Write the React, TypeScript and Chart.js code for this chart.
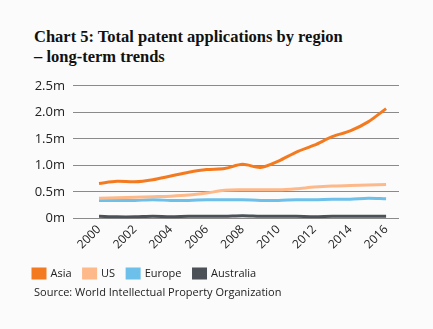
import React, { useEffect, useRef } from "react";
import { Chart, registerables } from "chart.js";

Chart.register(...registerables);

const years = [2000, 2001, 2002, 2003, 2004, 2005, 2006, 2007, 2008, 2009, 2010, 2011, 2012, 2013, 2014, 2015, 2016];
const asia = [0.66, 0.70, 0.69, 0.73, 0.80, 0.87, 0.92, 0.94, 1.02, 0.96, 1.08, 1.25, 1.38, 1.54, 1.65, 1.82, 2.07];
const us = [0.38, 0.39, 0.40, 0.41, 0.42, 0.44, 0.48, 0.53, 0.54, 0.54, 0.54, 0.56, 0.59, 0.61, 0.62, 0.63, 0.64];
const europe = [0.34, 0.34, 0.34, 0.35, 0.34, 0.34, 0.35, 0.35, 0.35, 0.34, 0.34, 0.35, 0.35, 0.36, 0.36, 0.38, 0.37];
const australia = [0.04, 0.03, 0.03, 0.04, 0.03, 0.04, 0.04, 0.04, 0.05, 0.04, 0.04, 0.04, 0.03, 0.04, 0.04, 0.04, 0.04];
const xTicks = [2000, 2002, 2004, 2006, 2008, 2010, 2012, 2014, 2016];
const yTicks = [0, 0.5, 1.0, 1.5, 2.0, 2.5];

const title1 = "Chart 5: Total patent applications by region";
const title2 = "\u2013 long-term trends";
const source = "Source: World Intellectual Property Organization";

const BG = "#fbfbfb";
const SANS = "'Open Sans', sans-serif";

function toPoints(vals: number[]) {
  return vals.map((v, i) => ({ x: years[i], y: v }));
}

export default function App() {
  const ref = useRef<HTMLCanvasElement>(null);
  useEffect(() => {
    if (!ref.current) return;
    const mk = (label: string, vals: number[], color: string) => ({
      label,
      data: toPoints(vals),
      borderColor: color,
      backgroundColor: color,
      borderWidth: 3,
      pointRadius: 0,
      tension: 0.3,
    });
    const chart = new Chart(ref.current, {
      type: "line",
      data: {
        datasets: [
          mk("Asia", asia, "#f47a20"),
          mk("US", us, "#fdb98a"),
          mk("Europe", europe, "#6cc0ea"),
          mk("Australia", australia, "#4b5157"),
        ],
      },
      options: {
        animation: false,
        responsive: false,
        maintainAspectRatio: false,
        layout: { padding: { left: 21, right: 34, top: 8, bottom: 0 } },
        plugins: {
          tooltip: { enabled: false },
          legend: {
            position: "bottom",
            align: "start",
            labels: {
              boxWidth: 12,
              boxHeight: 9,
              padding: 12,
              color: "#222",
              font: { family: SANS, size: 11 },
            },
          },
        },
        scales: {
          x: {
            type: "linear",
            min: 1998.55,
            max: 2016.72,
            afterBuildTicks: (s: any) => {
              s.ticks = xTicks.map((v) => ({ value: v }));
            },
            grid: { display: false, drawTicks: false },
            border: { display: false },
            ticks: {
              autoSkip: false,
              maxRotation: 45,
              minRotation: 45,
              padding: 4,
              color: "#222",
              font: { family: SANS, size: 12 },
              callback: (v: any) => String(v),
            },
          },
          y: {
            min: 0,
            max: 2.5,
            afterBuildTicks: (s: any) => {
              s.ticks = yTicks.map((v) => ({ value: v }));
            },
            afterFit: (s: any) => {
              s.width = 52;
            },
            grid: { color: "#8a8a8a", lineWidth: 1, drawTicks: false },
            border: { display: false },
            ticks: {
              padding: 8,
              color: "#222",
              font: { family: SANS, size: 13 },
              callback: (v: any) => (v === 0 ? "0m" : Number(v).toFixed(1) + "m"),
            },
          },
        },
      },
    });
    return () => chart.destroy();
  }, []);

  return (
    <div style={{ position: "fixed", left: 0, top: 0, width: 433, height: 329, background: BG, overflow: "hidden" }}>
      <div
        style={{
          position: "absolute",
          left: 34,
          top: 27,
          fontFamily: "'Liberation Serif', serif",
          fontWeight: "bold",
          fontSize: 16.5,
          lineHeight: "20px",
          color: "#111",
          whiteSpace: "nowrap",
        }}
      >
        <div>{title1}</div>
        <div>{title2}</div>
      </div>
      <canvas ref={ref} width={433} height={219} style={{ position: "absolute", left: 0, top: 70, width: 433, height: 219 }} />
      <div
        style={{
          position: "absolute",
          left: 34,
          top: 284,
          fontFamily: SANS,
          fontSize: 11,
          color: "#222",
          whiteSpace: "nowrap",
        }}
      >
        {source}
      </div>
    </div>
  );
}
